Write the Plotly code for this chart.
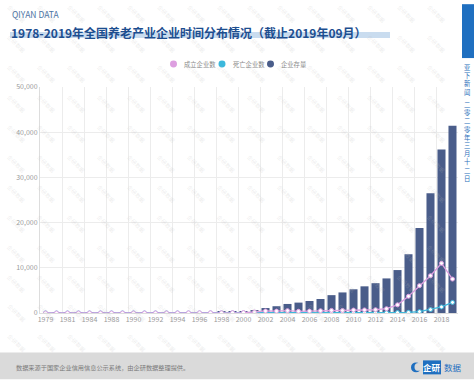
import plotly.graph_objects as go

# ---------------- data ----------------
years = [1979, 1980, 1981, 1983, 1984, 1986, 1988, 1989, 1990, 1991, 1992, 1993,
         1994, 1995, 1996, 1997, 1998, 1999, 2000, 2001, 2002, 2003, 2004, 2005,
         2006, 2007, 2008, 2009, 2010, 2011, 2012, 2013, 2014, 2015, 2016, 2017,
         2018, 2019]

stock = [1, 2, 3, 4, 6, 8, 12, 15, 20, 25, 35, 50,
         70, 100, 140, 190, 250, 330, 430, 650, 1100, 1500, 2000, 2300,
         2650, 3100, 3950, 4550, 5250, 5900, 6600, 7650, 9500, 13000, 18800, 26500,
         36200, 41400]

established = [1, 1, 1, 1, 2, 2, 4, 3, 5, 5, 10, 15,
               20, 30, 40, 50, 60, 80, 100, 220, 450, 420, 520, 380,
               420, 500, 580, 560, 650, 680, 720, 950, 1800, 3700, 6050, 8250,
               11000, 7500]

dead = [0, 0, 0, 0, 0, 0, 0, 0, 0, 0, 0, 0,
        0, 0, 0, 0, 1, 2, 3, 5, 10, 15, 20, 25,
        30, 35, 40, 45, 50, 55, 60, 70, 90, 150, 300, 750,
        1350, 2350]

series_names = ["成立企业数", "死亡企业数", "企业存量"]
y_ticks = [0, 10000, 20000, 30000, 40000, 50000]

title_text = "1978-2019年全国养老产业企业时间分布情况（截止2019年09月）"
subtitle_text = "QIYAN DATA"
side_text = "亚下新闻"
side_date = "二零二零年三月十二日"
source_text = "数据来源于国家企业信用信息公示系统，由企研数据整理提供。"
watermark_text = "企研数据"

# ---------------- styles ----------------
W, H = 474, 380
L, R, T, B = 40, 16, 87, 66.5
PINK = "#dd9fe0"
CYAN = "#3cb8dc"
NAVY = "#4a5d8a"
FONT = "Noto Sans CJK SC"

idx = list(range(len(years)))

fig = go.Figure()
fig.add_trace(go.Bar(x=idx, y=stock, name=series_names[2], marker_color=NAVY,
                     marker_line_width=0, showlegend=False))
fig.add_trace(go.Scatter(x=idx, y=dead, name=series_names[1], mode="lines+markers",
                         line=dict(color=CYAN, width=1.3),
                         marker=dict(color="white", size=4, line=dict(color=CYAN, width=1)),
                         showlegend=False))
fig.add_trace(go.Scatter(x=idx, y=established, name=series_names[0], mode="lines+markers",
                         line=dict(color=PINK, width=1.3),
                         marker=dict(color="white", size=4, line=dict(color=PINK, width=1)),
                         showlegend=False))

grid = "#ececec"
fig.update_layout(
    width=W, height=H,
    margin=dict(l=L, r=R, t=T, b=B, pad=0),
    paper_bgcolor="white", plot_bgcolor="white",
    bargap=0.27,
    font=dict(family=FONT, size=7, color="#999999"),
    xaxis=dict(range=[-0.5, len(years) - 0.5], tickmode="array",
               tickvals=idx[::2], ticktext=[str(y) for y in years[::2]],
               showgrid=False, zeroline=False, showline=True, linecolor="#dddddd",
               ticks="", tickfont=dict(size=7, color="#9a9a9a"), fixedrange=True,
               minor=dict(tickmode="array",
                          tickvals=[i - 0.5 for i in idx[::2]] + [len(years) - 0.5],
                          showgrid=True, gridcolor=grid, gridwidth=1, ticks="")),
    yaxis=dict(range=[0, 50000], tickmode="array", tickvals=y_ticks,
               tickformat=",", showgrid=True, gridcolor=grid, zeroline=False,
               showline=True, linecolor="#dddddd", ticks="",
               tickfont=dict(size=7, color="#9a9a9a")),
    showlegend=False,
)

pw, ph = W - L - R, H - T - B


def px(x):
    return (x - L) / pw


def py(y):
    return (H - B - y) / ph


shapes = []
ann = []

# watermark grid
for r in range(12):
    for c in range(15):
        ann.append(dict(text=watermark_text, xref="paper", yref="paper",
                        x=px(16 + c * 30), y=py(14 + r * 30), textangle=45,
                        showarrow=False, xanchor="center", yanchor="middle",
                        font=dict(size=5.5, color="rgba(185,185,185,0.28)", family=FONT)))

# header
shapes.append(dict(type="rect", xref="paper", yref="paper", layer="below",
                   x0=px(10), x1=px(390), y0=py(38), y1=py(32),
                   fillcolor="#c9dcef", line_width=0))
shapes.append(dict(type="rect", xref="paper", yref="paper",
                   x0=px(462), x1=px(474), y0=py(58), y1=py(4),
                   fillcolor="#1f6fc0", line_width=0))
ann.append(dict(text=subtitle_text, xref="paper", yref="paper", x=px(10), y=py(14),
                xanchor="left", yanchor="middle", showarrow=False,
                font=dict(size=8.5, color="#4d74a3", family=FONT)))
ann.append(dict(text="<b>" + title_text + "</b>", xref="paper", yref="paper",
                x=px(9), y=py(32), xanchor="left", yanchor="middle", showarrow=False,
                font=dict(size=12, color="#1d4e8f", family=FONT)))
ann.append(dict(text="<br>".join(list(side_text)), xref="paper", yref="paper",
                x=px(467.5), y=py(61), xanchor="center", yanchor="top", showarrow=False,
                font=dict(size=6.3, color="#2a6fba", family=FONT)))
ann.append(dict(text="<br>".join(list(side_date)), xref="paper", yref="paper",
                x=px(467.5), y=py(98), xanchor="center", yanchor="top", showarrow=False,
                font=dict(size=6.3, color="#2a6fba", family=FONT)))

# legend
leg = [(173.5, 182, series_names[0], PINK),
       (222, 231, series_names[1], CYAN),
       (270.5, 279, series_names[2], NAVY)]
for cx, tx, name, col in leg:
    shapes.append(dict(type="circle", xref="paper", yref="paper",
                       x0=px(cx - 3.5), x1=px(cx + 3.5), y0=py(64 + 3.5), y1=py(64 - 3.5),
                       fillcolor=col, line_width=0))
    ann.append(dict(text=name, xref="paper", yref="paper", x=px(tx), y=py(64),
                    xanchor="left", yanchor="middle", showarrow=False,
                    font=dict(size=6.3, color="#8a8a8a", family=FONT)))

# footer
shapes.append(dict(type="rect", xref="paper", yref="paper", layer="below",
                   x0=px(0), x1=px(474), y0=py(380), y1=py(353),
                   fillcolor="#dadada", line_width=0))
ann.append(dict(text=source_text, xref="paper", yref="paper", x=px(14), y=py(368),
                xanchor="left", yanchor="middle", showarrow=False,
                font=dict(size=6.2, color="#7a7a7a", family=FONT)))
# logo
shapes.append(dict(type="circle", xref="paper", yref="paper",
                   x0=px(411), x1=px(421), y0=py(373), y1=py(363),
                   fillcolor="#1f6fc0", line_width=0))
shapes.append(dict(type="circle", xref="paper", yref="paper",
                   x0=px(414.5), x1=px(422.5), y0=py(371.5), y1=py(363.5),
                   fillcolor="#dadada", line_width=0))
shapes.append(dict(type="rect", xref="paper", yref="paper",
                   x0=px(423), x1=px(441), y0=py(375), y1=py(361),
                   fillcolor="#1f6fc0", line_width=0))
ann.append(dict(text="<b>企研</b>", xref="paper", yref="paper", x=px(432), y=py(368),
                xanchor="center", yanchor="middle", showarrow=False,
                font=dict(size=8.5, color="white", family=FONT)))
ann.append(dict(text="数据", xref="paper", yref="paper", x=px(442), y=py(368),
                xanchor="left", yanchor="middle", showarrow=False,
                font=dict(size=8.5, color="#1f6fc0", family=FONT)))

fig.update_layout(shapes=shapes, annotations=ann)
fig.write_html("out.html", config={"displayModeBar": False},
               post_script="document.body.style.margin='0';document.body.style.overflow='hidden';")
